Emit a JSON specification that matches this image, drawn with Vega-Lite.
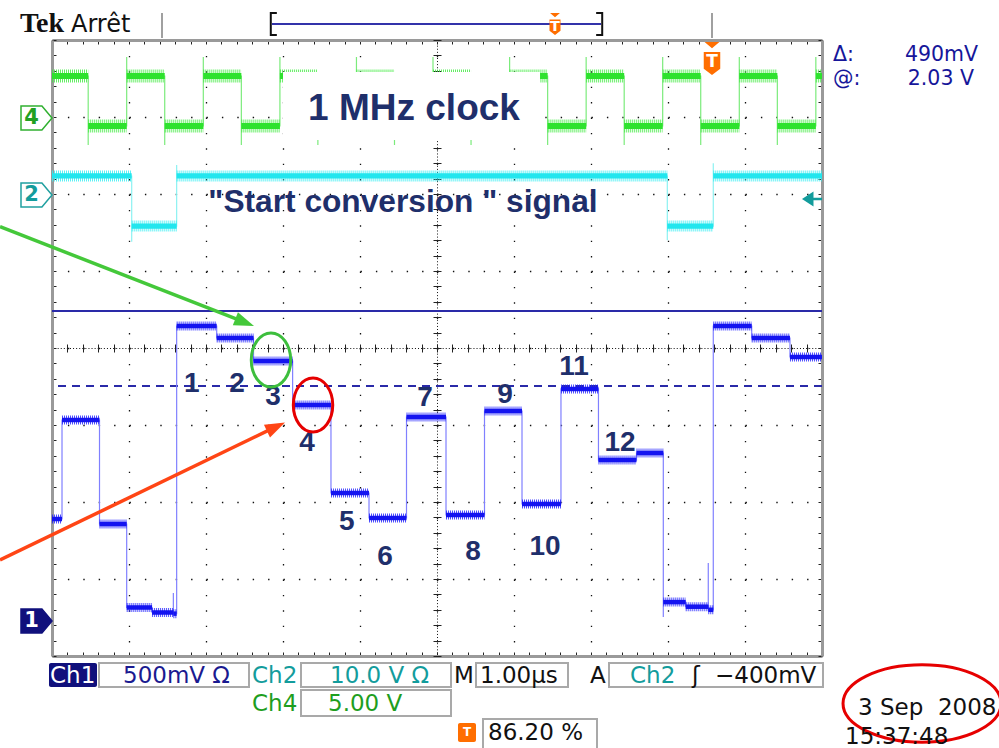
{
"$schema": "https://vega.github.io/schema/vega-lite/v6.json",
"width": 770,
"height": 616,
"autosize": {"type": "none"},
"padding": {"left": 52, "top": 40, "right": 177, "bottom": 92},
"background": "#ffffff",
"config": {"view": {"stroke": null}},
"datasets": {
"traces": [
{"ch":"ch4","i":0,"t":0,"v":7.532},
{"ch":"ch4","i":1,"t":0.47,"v":6.636},{"ch":"ch4","i":2,"t":0.47,"v":6.883},
{"ch":"ch4","i":3,"t":0.97,"v":7.779},{"ch":"ch4","i":4,"t":0.97,"v":7.532},
{"ch":"ch4","i":5,"t":1.464,"v":6.636},{"ch":"ch4","i":6,"t":1.464,"v":6.883},
{"ch":"ch4","i":7,"t":1.965,"v":7.779},{"ch":"ch4","i":8,"t":1.965,"v":7.532},
{"ch":"ch4","i":9,"t":2.459,"v":6.636},{"ch":"ch4","i":10,"t":2.459,"v":6.883},
{"ch":"ch4","i":11,"t":2.96,"v":7.779},{"ch":"ch4","i":12,"t":2.96,"v":7.532},
{"ch":"ch4","i":13,"t":3.453,"v":6.636},{"ch":"ch4","i":14,"t":3.453,"v":6.883},
{"ch":"ch4","i":15,"t":3.954,"v":7.779},{"ch":"ch4","i":16,"t":3.954,"v":7.532},
{"ch":"ch4","i":17,"t":4.448,"v":6.636},{"ch":"ch4","i":18,"t":4.448,"v":6.883},
{"ch":"ch4","i":19,"t":4.948,"v":7.779},{"ch":"ch4","i":20,"t":4.948,"v":7.532},
{"ch":"ch4","i":21,"t":5.442,"v":6.636},{"ch":"ch4","i":22,"t":5.442,"v":6.883},
{"ch":"ch4","i":23,"t":5.943,"v":7.779},{"ch":"ch4","i":24,"t":5.943,"v":7.532},
{"ch":"ch4","i":25,"t":6.437,"v":6.636},{"ch":"ch4","i":26,"t":6.437,"v":6.883},
{"ch":"ch4","i":27,"t":6.937,"v":7.779},{"ch":"ch4","i":28,"t":6.937,"v":7.532},
{"ch":"ch4","i":29,"t":7.431,"v":6.636},{"ch":"ch4","i":30,"t":7.431,"v":6.883},
{"ch":"ch4","i":31,"t":7.931,"v":7.779},{"ch":"ch4","i":32,"t":7.931,"v":7.532},
{"ch":"ch4","i":33,"t":8.425,"v":6.636},{"ch":"ch4","i":34,"t":8.425,"v":6.883},
{"ch":"ch4","i":35,"t":8.926,"v":7.779},{"ch":"ch4","i":36,"t":8.926,"v":7.532},
{"ch":"ch4","i":37,"t":9.42,"v":6.636},{"ch":"ch4","i":38,"t":9.42,"v":6.883},
{"ch":"ch4","i":39,"t":9.92,"v":7.779},{"ch":"ch4","i":40,"t":9.92,"v":7.532},
{"ch":"ch4","i":41,"t":10,"v":7.532},
{"ch":"ch2","i":42,"t":0,"v":6.234},
{"ch":"ch2","i":43,"t":1.035,"v":5.38},{"ch":"ch2","i":44,"t":1.035,"v":5.584},
{"ch":"ch2","i":45,"t":1.619,"v":6.377},{"ch":"ch2","i":46,"t":1.619,"v":6.234},
{"ch":"ch2","i":47,"t":7.991,"v":5.40},{"ch":"ch2","i":48,"t":7.991,"v":5.584},
{"ch":"ch2","i":49,"t":8.588,"v":6.40},{"ch":"ch2","i":50,"t":8.588,"v":6.234},
{"ch":"ch2","i":51,"t":10,"v":6.234},
{"ch":"ch1","i":52,"t":0,"v":1.779},
{"ch":"ch1","i":53,"t":0.13,"v":3.065},
{"ch":"ch1","i":54,"t":0.617,"v":1.714},
{"ch":"ch1","i":55,"t":0.97,"v":0.63},
{"ch":"ch1","i":56,"t":1.3,"v":0.565},
{"ch":"ch1","i":58,"t":1.576,"v":0.818},
{"ch":"ch1","i":59,"t":1.576,"v":0.55},
{"ch":"ch1","i":60,"t":1.619,"v":4.286},
{"ch":"ch1","i":61,"t":2.139,"v":4.130},
{"ch":"ch1","i":62,"t":2.617,"v":3.831},
{"ch":"ch1","i":63,"t":3.125,"v":3.260},
{"ch":"ch1","i":64,"t":3.623,"v":2.117},
{"ch":"ch1","i":65,"t":4.117,"v":1.792},
{"ch":"ch1","i":66,"t":4.604,"v":3.104},
{"ch":"ch1","i":67,"t":5.117,"v":1.831},
{"ch":"ch1","i":68,"t":5.617,"v":3.182},
{"ch":"ch1","i":69,"t":6.104,"v":1.974},
{"ch":"ch1","i":70,"t":6.61,"v":3.468},
{"ch":"ch1","i":71,"t":7.097,"v":2.545},
{"ch":"ch1","i":72,"t":7.591,"v":2.636},
{"ch":"ch1","i":73,"t":7.939,"v":0.506},
{"ch":"ch1","i":74,"t":7.939,"v":0.70},
{"ch":"ch1","i":75,"t":8.23,"v":0.64},
{"ch":"ch1","i":77,"t":8.523,"v":1.208},
{"ch":"ch1","i":78,"t":8.523,"v":0.60},
{"ch":"ch1","i":79,"t":8.588,"v":4.286},
{"ch":"ch1","i":80,"t":9.087,"v":4.130},
{"ch":"ch1","i":81,"t":9.584,"v":3.883},
{"ch":"ch1","i":82,"t":10,"v":3.883}
]
},
"resolve": {
"axis": {"x": "independent", "y": "independent"},
"scale": {"color": "independent", "size": "independent", "fill": "independent", "stroke": "independent", "shape": "independent", "strokeDash": "independent"}
},
"layer": [
{
"data": {"values": [{"cur":"ref","v":4.481},{"cur":"delta","v":3.506}]},
"mark": {"type": "rule", "strokeWidth": 2, "color": "#2A2AA8"},
"encoding": {
"y": {"field":"v","type":"quantitative","scale":{"domain":[0,8],"nice":false,"zero":false},"axis":null},
"strokeDash": {"field":"cur","type":"nominal","scale":{"domain":["ref","delta"],"range":[[1,0],[8,6]]},"legend":null}
}
},
{
"data": {"name": "traces"},
"mark": {"type": "line", "interpolate": "step-after", "strokeWidth": 1.2},
"encoding": {
"x": {"field":"t","type":"quantitative","scale":{"domain":[0,10],"nice":false,"zero":false},
 "axis":{"values":[0,1,2,3,4,5,6,7,8,9,10],"grid":true,"gridColor":"#111111","gridWidth":1.3,"gridDash":[1.4,14],"domain":false,"ticks":false,"labels":false,"title":null}},
"y": {"field":"v","type":"quantitative","scale":{"domain":[0,8],"nice":false,"zero":false},
 "axis":{"values":[0,1,2,3,4,5,6,7,8],"grid":true,"gridColor":"#111111","gridWidth":1.3,"gridDash":[1.4,14],"domain":false,"ticks":false,"labels":false,"title":null}},
"color": {"field":"ch","type":"nominal","scale":{"domain":["ch1","ch2","ch4"],"range":["#8080FF","#8CF2F2","#7CEB7C"]},"legend":null},
"order": {"field":"i","type":"quantitative"}
}
},
{
"data": {"name": "traces"},
"transform": [
{"window": [{"op":"lead","field":"t","as":"t1"}], "groupby": ["ch"], "sort": [{"field":"i","order":"ascending"}]},
{"filter": "datum.t1 != null"}
],
"mark": {"type": "rule", "strokeCap": "butt", "strokeDash": [1,1], "opacity": 0.8},
"encoding": {
"x": {"field":"t","type":"quantitative","scale":{"domain":[0,10],"nice":false,"zero":false},
 "axis":{"orient":"bottom","tickCount":50,"grid":false,"domain":true,"domainColor":"#9A9A9A","domainWidth":3,"ticks":true,"tickSize":-4,"tickColor":"#222222","tickWidth":1,"labels":false,"title":null}},
"x2": {"field":"t1"},
"y": {"field":"v","type":"quantitative","scale":{"domain":[0,8],"nice":false,"zero":false},
 "axis":{"orient":"left","tickCount":40,"grid":false,"domain":true,"domainColor":"#9A9A9A","domainWidth":3,"ticks":true,"tickSize":-4,"tickColor":"#222222","tickWidth":1,"labels":false,"title":null}},
"color": {"field":"ch","type":"nominal","scale":{"domain":["ch1","ch2","ch4"],"range":["#2020FF","#30EEF2","#3CEA3C"]},"legend":null},
"size": {"field":"ch","type":"nominal","scale":{"domain":["ch1","ch2","ch4"],"range":[9,13,12]},"legend":null}
}
},
{
"data": {"name": "traces"},
"transform": [
{"window": [{"op":"lead","field":"t","as":"t1"}], "groupby": ["ch"], "sort": [{"field":"i","order":"ascending"}]},
{"filter": "datum.t1 != null"}
],
"mark": {"type": "rule", "strokeCap": "butt"},
"encoding": {
"x": {"field":"t","type":"quantitative","scale":{"domain":[0,10],"nice":false,"zero":false},
 "axis":{"orient":"top","tickCount":50,"grid":false,"domain":true,"domainColor":"#9A9A9A","domainWidth":3,"ticks":true,"tickSize":-4,"tickColor":"#222222","tickWidth":1,"labels":false,"title":null}},
"x2": {"field":"t1"},
"y": {"field":"v","type":"quantitative","scale":{"domain":[0,8],"nice":false,"zero":false},
 "axis":{"orient":"right","tickCount":40,"grid":false,"domain":true,"domainColor":"#9A9A9A","domainWidth":3,"ticks":true,"tickSize":-4,"tickColor":"#222222","tickWidth":1,"labels":false,"title":null}},
"color": {"field":"ch","type":"nominal","scale":{"domain":["ch1","ch2","ch4"],"range":["#1414F0","#22E6EE","#2EE22E"]},"legend":null},
"size": {"field":"ch","type":"nominal","scale":{"domain":["ch1","ch2","ch4"],"range":[4.5,6,6]},"legend":null}
}
},
{
"data": {"values": [{"t":3.0,"t2":6.338,"v":7.584,"v2":6.701}]},
"mark": {"type": "rect", "fill": "#ffffff"},
"encoding": {
"x": {"field":"t","type":"quantitative","scale":{"domain":[0,10],"nice":false,"zero":false},"axis":null},
"x2": {"field":"t2"},
"y": {"field":"v","type":"quantitative","scale":{"domain":[0,8],"nice":false,"zero":false},"axis":null},
"y2": {"field":"v2"}
}
},
{
"data": {"values": [{"s":"1 MHz clock","t":4.7013,"v":6.961}]},
"mark": {"type": "text", "font": "Liberation Sans", "fontWeight": "bold", "fontSize": 37, "align": "center", "baseline": "alphabetic", "color": "#1F2F6B"},
"encoding": {
"x": {"field":"t","type":"quantitative","scale":{"domain":[0,10],"nice":false,"zero":false},
 "axis":{"values":[5],"grid":true,"gridColor":"#111111","gridWidth":1,"gridDash":[1,2.08],"domain":false,"ticks":false,"labels":false,"title":null}},
"y": {"field":"v","type":"quantitative","scale":{"domain":[0,8],"nice":false,"zero":false},
 "axis":{"values":[4],"grid":true,"gridColor":"#111111","gridWidth":1,"gridDash":[1,2.08],"domain":false,"ticks":false,"labels":false,"title":null}},
"text": {"field":"s"}
}
},
{
"data": {"values": [{"s":"\"Start conversion \" signal","t":4.5584,"v":5.766}]},
"mark": {"type": "text", "font": "Liberation Sans", "fontWeight": "bold", "fontSize": 31.7, "align": "center", "baseline": "alphabetic", "color": "#1F2F6B"},
"encoding": {
"x": {"field":"t","type":"quantitative","scale":{"domain":[0,10],"nice":false,"zero":false},"axis":null},
"y": {"field":"v","type":"quantitative","scale":{"domain":[0,8],"nice":false,"zero":false},"axis":null},
"text": {"field":"s"}
}
},
{
"data": {"values": [
{"s":"1","t":1.814,"v":3.532},{"s":"2","t":2.403,"v":3.532},{"s":"3","t":2.870,"v":3.364},
{"s":"4","t":3.312,"v":2.766},{"s":"5","t":3.827,"v":1.744},{"s":"6","t":4.325,"v":1.290},
{"s":"7","t":4.844,"v":3.351},{"s":"8","t":5.468,"v":1.355},{"s":"9","t":5.883,"v":3.390},
{"s":"10","t":6.403,"v":1.419},{"s":"11","t":6.779,"v":3.757},{"s":"12","t":7.377,"v":2.770}
]},
"mark": {"type": "text", "font": "Liberation Sans", "fontWeight": "bold", "fontSize": 28, "align": "center", "baseline": "middle", "color": "#1F2F6B"},
"encoding": {
"x": {"field":"t","type":"quantitative","scale":{"domain":[0,10],"nice":false,"zero":false},
 "axis":{"orient":"bottom","offset":-312,"tickCount":50,"grid":false,"domain":false,"ticks":true,"tickSize":8,"tickColor":"#222222","tickWidth":1,"labels":false,"title":null}},
"y": {"field":"v","type":"quantitative","scale":{"domain":[0,8],"nice":false,"zero":false},
 "axis":{"orient":"left","offset":-389,"tickCount":40,"grid":false,"domain":false,"ticks":true,"tickSize":8,"tickColor":"#222222","tickWidth":1,"labels":false,"title":null}},
"text": {"field":"s"}
}
},
{
"data": {"values": [
{"c":"g","t":-0.675,"v":5.575,"t2":2.4416,"v2":4.360},
{"c":"r","t":-0.675,"v":1.247,"t2":2.857,"v2":2.952}
]},
"mark": {"type": "rule", "strokeWidth": 3.5},
"encoding": {
"x": {"field":"t","type":"quantitative","scale":{"domain":[0,10],"nice":false,"zero":false},"axis":null},
"x2": {"field":"t2"},
"y": {"field":"v","type":"quantitative","scale":{"domain":[0,8],"nice":false,"zero":false},"axis":null},
"y2": {"field":"v2"},
"color": {"field":"c","type":"nominal","scale":{"domain":["g","r"],"range":["#44C83A","#FF4515"]},"legend":null}
}
},
{
"data": {"values": [{"t":2.5026,"v":4.332}]},
"mark": {"type": "point", "shape": "M1,0 L-1,-0.7 L-1,0.7 Z", "size": 400, "angle": 21.3, "filled": true, "opacity": 1, "color": "#44C83A"},
"encoding": {
"x": {"field":"t","type":"quantitative","scale":{"domain":[0,10],"nice":false,"zero":false},"axis":null},
"y": {"field":"v","type":"quantitative","scale":{"domain":[0,8],"nice":false,"zero":false},"axis":null}
}
},
{
"data": {"values": [{"t":2.909,"v":2.977}]},
"mark": {"type": "point", "shape": "M1,0 L-1,-0.7 L-1,0.7 Z", "size": 400, "angle": 334.3, "filled": true, "opacity": 1, "color": "#FF4515"},
"encoding": {
"x": {"field":"t","type":"quantitative","scale":{"domain":[0,10],"nice":false,"zero":false},"axis":null},
"y": {"field":"v","type":"quantitative","scale":{"domain":[0,8],"nice":false,"zero":false},"axis":null}
}
},
{
"data": {"values": [{"c":"g","t":2.844,"v":3.844},{"c":"r","t":3.390,"v":3.260}]},
"mark": {"type": "point", "shape": "M0,-1 A0.73,1 0 1,0 0,1 A0.73,1 0 1,0 0,-1 Z", "size": 2916, "filled": false, "strokeWidth": 3, "opacity": 1},
"encoding": {
"x": {"field":"t","type":"quantitative","scale":{"domain":[0,10],"nice":false,"zero":false},"axis":null},
"y": {"field":"v","type":"quantitative","scale":{"domain":[0,8],"nice":false,"zero":false},"axis":null},
"color": {"field":"c","type":"nominal","scale":{"domain":["g","r"],"range":["#3DBE3D","#E60000"]},"legend":null}
}
},
{
"data": {"values": [{"t":11.299,"v":-0.617}]},
"mark": {"type": "point", "shape": "M-1,0 A1,0.49 0 1,0 1,0 A1,0.49 0 1,0 -1,0 Z", "size": 24964, "filled": false, "strokeWidth": 3, "opacity": 1, "color": "#E60000"},
"encoding": {
"x": {"field":"t","type":"quantitative","scale":{"domain":[0,10],"nice":false,"zero":false},"axis":null},
"y": {"field":"v","type":"quantitative","scale":{"domain":[0,8],"nice":false,"zero":false},"axis":null}
}
},
{
"data": {"values": [{"ch":"ch4","t":-0.2013,"v":6.987},{"ch":"ch2","t":-0.2013,"v":5.987},{"ch":"ch1","t":-0.2013,"v":0.4545}]},
"mark": {"type": "point", "shape": "M-1,-0.78 L0.35,-0.78 L1,0 L0.35,0.78 L-1,0.78 Z", "size": 961, "filled": true, "strokeWidth": 1.5, "opacity": 1},
"encoding": {
"x": {"field":"t","type":"quantitative","scale":{"domain":[0,10],"nice":false,"zero":false},"axis":null},
"y": {"field":"v","type":"quantitative","scale":{"domain":[0,8],"nice":false,"zero":false},"axis":null},
"fill": {"field":"ch","type":"nominal","scale":{"domain":["ch1","ch2","ch4"],"range":["#10107C","#ffffff","#ffffff"]},"legend":null},
"stroke": {"field":"ch","type":"nominal","scale":{"domain":["ch1","ch2","ch4"],"range":["#10107C","#20A0A0","#30B030"]},"legend":null}
}
},
{
"data": {"values": [{"s":"4","ch":"ch4","t":-0.2662,"v":6.987},{"s":"2","ch":"ch2","t":-0.2662,"v":5.987},{"s":"1","ch":"ch1","t":-0.2662,"v":0.4545}]},
"mark": {"type": "text", "font": "DejaVu Sans", "fontWeight": "bold", "fontSize": 21, "align": "center", "baseline": "middle"},
"encoding": {
"x": {"field":"t","type":"quantitative","scale":{"domain":[0,10],"nice":false,"zero":false},"axis":null},
"y": {"field":"v","type":"quantitative","scale":{"domain":[0,8],"nice":false,"zero":false},"axis":null},
"text": {"field":"s"},
"color": {"field":"ch","type":"nominal","scale":{"domain":["ch1","ch2","ch4"],"range":["#ffffff","#149C9C","#22A022"]},"legend":null}
}
},
{
"data": {"values": [{"t":9.870,"v":5.935}]},
"mark": {"type": "point", "shape": "M-1,0 L0.15,-0.75 L0.15,0.75 Z M0.15,-0.12 L1,-0.12 L1,0.12 L0.15,0.12 Z", "size": 400, "filled": true, "opacity": 1, "color": "#139C9C"},
"encoding": {
"x": {"field":"t","type":"quantitative","scale":{"domain":[0,10],"nice":false,"zero":false},"axis":null},
"y": {"field":"v","type":"quantitative","scale":{"domain":[0,8],"nice":false,"zero":false},"axis":null}
}
},
{
"data": {"values": [{"t":1.4286},{"t":8.5714}]},
"mark": {"type": "rule", "strokeWidth": 2, "color": "#A0A0A0"},
"encoding": {
"x": {"field":"t","type":"quantitative","scale":{"domain":[0,10],"nice":false,"zero":false},"axis":null},
"y": {"datum":8.3506,"type":"quantitative","scale":{"domain":[0,8],"nice":false,"zero":false},"axis":null},
"y2": {"datum":8.026}
}
},
{
"data": {"values": [{"t":2.857,"t2":7.13,"v":8.2078}]},
"mark": {"type": "rule", "strokeWidth": 2, "color": "#3333AA"},
"encoding": {
"x": {"field":"t","type":"quantitative","scale":{"domain":[0,10],"nice":false,"zero":false},"axis":null},
"x2": {"field":"t2"},
"y": {"field":"v","type":"quantitative","scale":{"domain":[0,8],"nice":false,"zero":false},"axis":null}
}
},
{
"data": {"values": [{"b":"l","t":2.87,"v":8.2078},{"b":"r","t":7.117,"v":8.2078}]},
"mark": {"type": "point", "size": 484, "filled": false, "strokeWidth": 2, "opacity": 1, "color": "#111111"},
"encoding": {
"x": {"field":"t","type":"quantitative","scale":{"domain":[0,10],"nice":false,"zero":false},"axis":null},
"y": {"field":"v","type":"quantitative","scale":{"domain":[0,8],"nice":false,"zero":false},"axis":null},
"shape": {"field":"b","type":"nominal","scale":{"domain":["l","r"],"range":["M0.35,-1 L-0.2,-1 L-0.2,1 L0.35,1","M-0.35,-1 L0.2,-1 L0.2,1 L-0.35,1"]},"legend":null}
}
},
{
"data": {"values": [{"m":"main","t":8.5714,"v":7.760},{"m":"bar","t":6.5325,"v":8.2078}]},
"mark": {"type": "point", "shape": "M-0.45,-1 L0.45,-1 L0,-0.62 Z M-0.5,-0.4 L0.5,-0.4 L0.5,0.62 L0,1 L-0.5,0.62 Z", "filled": true, "opacity": 1, "color": "#FF6E00"},
"encoding": {
"x": {"field":"t","type":"quantitative","scale":{"domain":[0,10],"nice":false,"zero":false},"axis":null},
"y": {"field":"v","type":"quantitative","scale":{"domain":[0,8],"nice":false,"zero":false},"axis":null},
"size": {"field":"m","type":"nominal","scale":{"domain":["main","bar"],"range":[1089,484]},"legend":null}
}
},
{
"data": {"values": [
{"t":0.6104,"t2":2.5584,"v":-0.0909,"v2":-0.4026},
{"t":3.2338,"t2":5.1818,"v":-0.0909,"v2":-0.4026},
{"t":5.5065,"t2":6.7013,"v":-0.0909,"v2":-0.4026},
{"t":7.2338,"t2":10.013,"v":-0.0909,"v2":-0.4026},
{"t":3.2338,"t2":5.1818,"v":-0.4416,"v2":-0.7792},
{"t":5.5974,"t2":7.0779,"v":-0.8182,"v2":-1.26}
]},
"mark": {"type": "rect", "filled": false, "stroke": "#A9A9A9", "strokeWidth": 2},
"encoding": {
"x": {"field":"t","type":"quantitative","scale":{"domain":[0,10],"nice":false,"zero":false},"axis":null},
"x2": {"field":"t2"},
"y": {"field":"v","type":"quantitative","scale":{"domain":[0,8],"nice":false,"zero":false},"axis":null},
"y2": {"field":"v2"}
}
},
{
"data": {"values": [
{"k":"ch1","t":-0.039,"t2":0.5844,"v":-0.0909,"v2":-0.4026},
{"k":"trig","t":5.2727,"t2":5.5065,"v":-0.8701,"v2":-1.1169}
]},
"mark": {"type": "rect", "cornerRadius": 2},
"encoding": {
"x": {"field":"t","type":"quantitative","scale":{"domain":[0,10],"nice":false,"zero":false},"axis":null},
"x2": {"field":"t2"},
"y": {"field":"v","type":"quantitative","scale":{"domain":[0,8],"nice":false,"zero":false},"axis":null},
"y2": {"field":"v2"},
"fill": {"field":"k","type":"nominal","scale":{"domain":["ch1","trig"],"range":["#10107C","#FF6E00"]},"legend":null}
}
},
{
"data": {"values": [{"m":"main","t":8.5714,"v":7.708},{"m":"bar","t":6.5325,"v":8.169},{"m":"foot","t":5.3896,"v":-0.9935}]},
"mark": {"type": "text", "font": "DejaVu Sans", "fontWeight": "bold", "align": "center", "baseline": "middle", "color": "#ffffff", "text": "T"},
"encoding": {
"x": {"field":"t","type":"quantitative","scale":{"domain":[0,10],"nice":false,"zero":false},"axis":null},
"y": {"field":"v","type":"quantitative","scale":{"domain":[0,8],"nice":false,"zero":false},"axis":null},
"size": {"field":"m","type":"nominal","scale":{"domain":["main","bar","foot"],"range":[17,12,16]},"legend":null}
}
},
{
"data": {"values": [{"s":"Tek","t":-0.4156,"v":8.104}]},
"mark": {"type": "text", "font": "Liberation Serif", "fontWeight": "bold", "fontSize": 28, "align": "left", "baseline": "alphabetic", "color": "#111111"},
"encoding": {
"x": {"field":"t","type":"quantitative","scale":{"domain":[0,10],"nice":false,"zero":false},"axis":null},
"y": {"field":"v","type":"quantitative","scale":{"domain":[0,8],"nice":false,"zero":false},"axis":null},
"text": {"field":"s"}
}
},
{
"data": {"values": [{"s":"Arrêt","t":0.2468,"v":8.104}]},
"mark": {"type": "text", "font": "DejaVu Sans", "fontSize": 24, "align": "left", "baseline": "alphabetic", "color": "#111111"},
"encoding": {
"x": {"field":"t","type":"quantitative","scale":{"domain":[0,10],"nice":false,"zero":false},"axis":null},
"y": {"field":"v","type":"quantitative","scale":{"domain":[0,8],"nice":false,"zero":false},"axis":null},
"text": {"field":"s"}
}
},
{
"data": {"values": [{"s":"Δ:","t":10.143,"v":7.727},{"s":"@:","t":10.143,"v":7.4156}]},
"mark": {"type": "text", "font": "DejaVu Sans", "fontSize": 20.5, "align": "left", "baseline": "alphabetic", "color": "#16169A"},
"encoding": {
"x": {"field":"t","type":"quantitative","scale":{"domain":[0,10],"nice":false,"zero":false},"axis":null},
"y": {"field":"v","type":"quantitative","scale":{"domain":[0,8],"nice":false,"zero":false},"axis":null},
"text": {"field":"s"}
}
},
{
"data": {"values": [{"s":"490mV","t":12.026,"v":7.727},{"s":"2.03 V","t":11.974,"v":7.4156}]},
"mark": {"type": "text", "font": "DejaVu Sans", "fontSize": 20.5, "align": "right", "baseline": "alphabetic", "color": "#16169A"},
"encoding": {
"x": {"field":"t","type":"quantitative","scale":{"domain":[0,10],"nice":false,"zero":false},"axis":null},
"y": {"field":"v","type":"quantitative","scale":{"domain":[0,8],"nice":false,"zero":false},"axis":null},
"text": {"field":"s"}
}
},
{
"data": {"values": [
{"s":"Ch1","g":"inv","t":-0.026,"v":-0.3506},
{"s":"500mV Ω","g":"ch1","t":0.922,"v":-0.3506},
{"s":"Ch2","g":"ch2","t":2.5974,"v":-0.3506},
{"s":"10.0 V Ω","g":"ch2","t":3.6104,"v":-0.3506},
{"s":"M","g":"sys","t":5.2208,"v":-0.3506},
{"s":"1.00µs","g":"sys","t":5.5584,"v":-0.3506},
{"s":"A","g":"sys","t":6.987,"v":-0.3506},
{"s":"Ch2","g":"ch2","t":7.5065,"v":-0.3506},
{"s":"ʃ","g":"sys","t":8.3117,"v":-0.3506},
{"s":"−400mV","g":"sys","t":8.6104,"v":-0.3506},
{"s":"Ch4","g":"ch4","t":2.5974,"v":-0.7143},
{"s":"5.00 V","g":"ch4","t":3.5844,"v":-0.7143},
{"s":"86.20 %","g":"sys","t":5.6623,"v":-1.0909},
{"s":"3 Sep\u00a0 2008","g":"sys","t":10.4675,"v":-0.7662},
{"s":"15:37:48","g":"sys","t":10.2987,"v":-1.1429}
]},
"mark": {"type": "text", "font": "DejaVu Sans", "fontSize": 23, "align": "left", "baseline": "alphabetic"},
"encoding": {
"x": {"field":"t","type":"quantitative","scale":{"domain":[0,10],"nice":false,"zero":false},"axis":null},
"y": {"field":"v","type":"quantitative","scale":{"domain":[0,8],"nice":false,"zero":false},"axis":null},
"text": {"field":"s"},
"color": {"field":"g","type":"nominal","scale":{"domain":["inv","ch1","ch2","ch4","sys"],"range":["#ffffff","#1A1A90","#139C9C","#1E9E1E","#111111"]},"legend":null}
}
}
]
}
